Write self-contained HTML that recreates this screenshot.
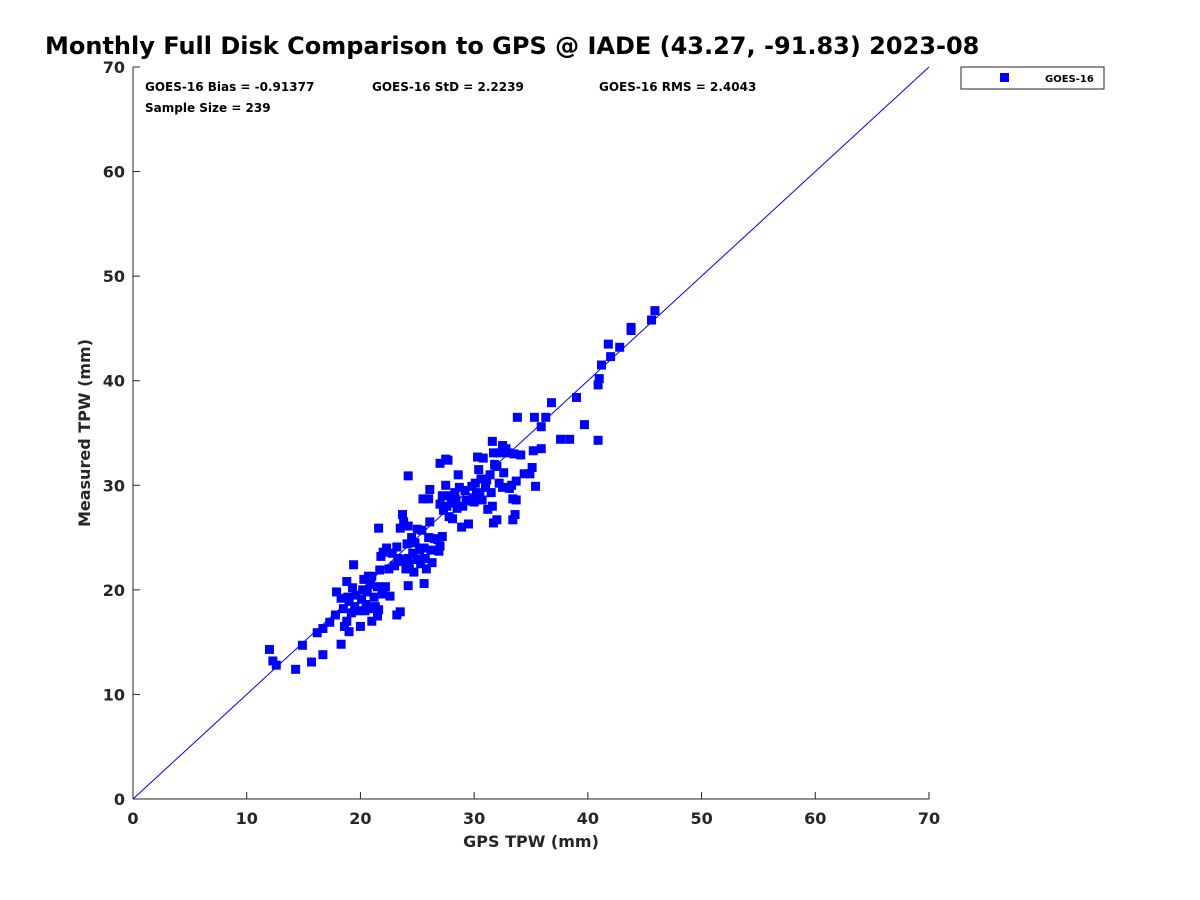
<!DOCTYPE html>
<html><head><meta charset="utf-8"><style>
body{margin:0;background:#fff;font-family:"Liberation Sans","DejaVu Sans",sans-serif;}
svg{display:block}
</style></head><body>
<svg id="c" width="1200" height="900" font-family="DejaVu Sans, Liberation Sans, sans-serif">
<rect width="1200" height="900" fill="#fff"/>
<text x="45" y="54" font-size="24" font-weight="bold">Monthly Full Disk Comparison to GPS @ IADE (43.27, -91.83) 2023-08</text>
<g id="axes"></g>
<g id="pts"></g>
<text x="145" y="91" font-size="12" font-weight="bold">GOES-16 Bias = -0.91377</text>
<text x="372" y="91" font-size="12" font-weight="bold">GOES-16 StD = 2.2239</text>
<text x="599" y="91" font-size="12" font-weight="bold">GOES-16 RMS = 2.4043</text>
<text x="145" y="112" font-size="12" font-weight="bold">Sample Size = 239</text>
<g>
<rect x="961" y="67" width="143" height="22" fill="#fff" stroke="#262626" stroke-width="1"/>
<rect x="1000" y="73" width="9" height="9" fill="#0000ff"/>
<text x="1045" y="82" font-size="10" font-weight="bold">GOES-16</text>
</g>
<text x="531" y="847" font-size="16" font-weight="bold" fill="#262626" text-anchor="middle">GPS TPW (mm)</text>
<text transform="translate(90,433) rotate(-90)" font-size="16" font-weight="bold" fill="#262626" text-anchor="middle">Measured TPW (mm)</text>
</svg>
<script>
const xTicks=[0,10,20,30,40,50,60,70];
const yTicks=[0,10,20,30,40,50,60,70];
const gpsX=[12.0,12.3,12.6,14.3,14.9,15.7,16.2,16.7,16.7,17.3,17.8,18.3,17.9,18.3,18.8,19.4,21.6,24.2,23.5,23.2,25.6,24.2,27.0,27.5,
33.8,35.3,36.3,36.8,35.9,39.0,39.7,37.6,38.4,40.9,40.9,41.0,41.2,41.8,42.0,42.8,43.8,43.8,45.6,45.9,
31.6,32.5,34.1,35.2,35.9,35.1,35.4,33.4,33.6,33.4,33.7,31.7,32.0,34.4,34.9,33.7,33.1,
18.5,18.8,19.0,19.2,19.5,19.6,19.8,20.0,20.1,20.2,20.3,20.5,20.6,20.8,20.9,21.0,21.0,21.2,21.3,21.5,21.5,21.6,21.7,21.8,21.9,22.0,22.0,22.2,22.3,22.5,22.6,22.8,19.3,19.0,18.6,18.9,20.4,20.7,
23.0,23.2,23.3,23.5,23.6,23.7,23.8,24.0,24.1,24.2,24.3,24.5,24.6,24.7,24.8,25.0,25.0,25.2,25.3,25.5,25.6,25.7,25.8,26.0,26.0,26.1,26.2,26.3,26.5,26.8,26.9,27.0,27.2,26.1,24.2,23.9,25.4,
27.0,27.2,27.3,27.5,27.6,27.8,27.9,28.0,28.1,28.3,28.5,28.6,28.7,28.9,29.0,29.2,29.3,29.5,29.6,29.8,30.0,30.1,30.2,30.3,30.5,30.6,30.7,30.8,31.0,31.1,31.2,31.4,31.5,31.7,31.8,32.0,32.2,32.3,32.5,32.6,32.8,33.0,33.3,33.5,30.4,29.9,28.4,27.7,31.6];
const measY=[14.3,13.2,12.8,12.4,14.7,13.1,15.9,13.8,16.3,16.9,17.6,14.8,19.8,19.2,20.8,22.4,25.9,30.9,17.9,17.6,20.6,20.4,32.1,32.5,
36.5,36.5,36.5,37.9,35.6,38.4,35.8,34.4,34.4,34.3,39.6,40.2,41.5,43.5,42.3,43.2,44.8,45.1,45.8,46.7,
34.2,33.8,32.9,33.3,33.5,31.7,29.9,26.7,27.2,28.7,28.6,26.4,26.7,31.1,31.1,30.4,29.7,
18.2,17.0,16.0,17.8,18.4,19.5,18.0,16.5,19.1,20.0,21.0,18.6,19.8,18.2,20.5,17.0,21.3,19.3,18.4,20.3,17.5,18.1,21.9,23.2,20.0,19.6,23.6,20.3,24.0,22.0,19.4,23.5,20.2,18.9,16.5,19.3,18.0,21.3,
22.3,24.1,23.0,25.9,22.7,27.2,26.5,22.0,24.4,23.0,22.4,25.0,23.5,21.7,24.5,22.9,25.8,23.8,22.5,28.7,24.0,23.0,22.0,28.7,25.0,26.5,23.8,22.6,24.9,24.8,23.7,24.2,25.1,29.6,26.1,22.9,25.7,
28.2,29.0,27.6,30.0,28.0,27.0,29.0,28.3,26.8,29.3,27.8,31.0,29.8,26.0,28.0,29.5,28.6,26.3,28.5,29.9,28.4,30.2,29.3,32.7,29.0,30.6,28.6,32.6,29.8,30.5,27.7,31.0,29.3,33.1,32.0,31.8,30.2,33.1,29.8,31.2,33.5,33.1,30.0,33.0,31.5,28.8,28.6,32.4,28.0];
const X0=133,X1=929,Y0=799,Y1=67;
const sx=v=>X0+(v-0)/(70-0)*(X1-X0);
const sy=v=>Y0-(v-0)/(70-0)*(Y0-Y1);
const NS="http://www.w3.org/2000/svg";
const axes=document.getElementById('axes'),pts=document.getElementById('pts');
function mk(t,a,p){const e=document.createElementNS(NS,t);for(const k in a)e.setAttribute(k,a[k]);p.appendChild(e);return e;}
let l=mk('line',{x1:X0,y1:Y0,x2:X1,y2:Y0,stroke:'#262626','stroke-width':1},axes);


l=mk('line',{x1:X0,y1:Y0,x2:X0,y2:Y1,stroke:'#262626','stroke-width':1},axes);


xTicks.forEach(v=>{
  mk('line',{x1:sx(v),y1:Y0,x2:sx(v),y2:Y0-7,stroke:'#262626'},axes);
  const t=mk('text',{x:sx(v),y:Y0+25,'font-size':16,'font-weight':'bold',fill:'#262626','text-anchor':'middle'},axes);
  t.textContent=v;
  
  
});
yTicks.forEach(v=>{
  mk('line',{x1:X0,y1:sy(v),x2:X0+7,y2:sy(v),stroke:'#262626'},axes);
  const t=mk('text',{x:X0-8,y:sy(v)+6,'font-size':16,'font-weight':'bold',fill:'#262626','text-anchor':'end'},axes);
  t.textContent=v;
  
  
});
l=mk('line',{x1:sx(0),y1:sy(0),x2:sx(70),y2:sy(70),stroke:'#0000ff','stroke-width':1},axes);


gpsX.forEach((v,i)=>{
  const r=mk('rect',{x:sx(v)-4.5,y:sy(measY[i])-4.5,width:9,height:9,fill:'#0000ff'},pts);
  
  
});
</script>
</body></html>
